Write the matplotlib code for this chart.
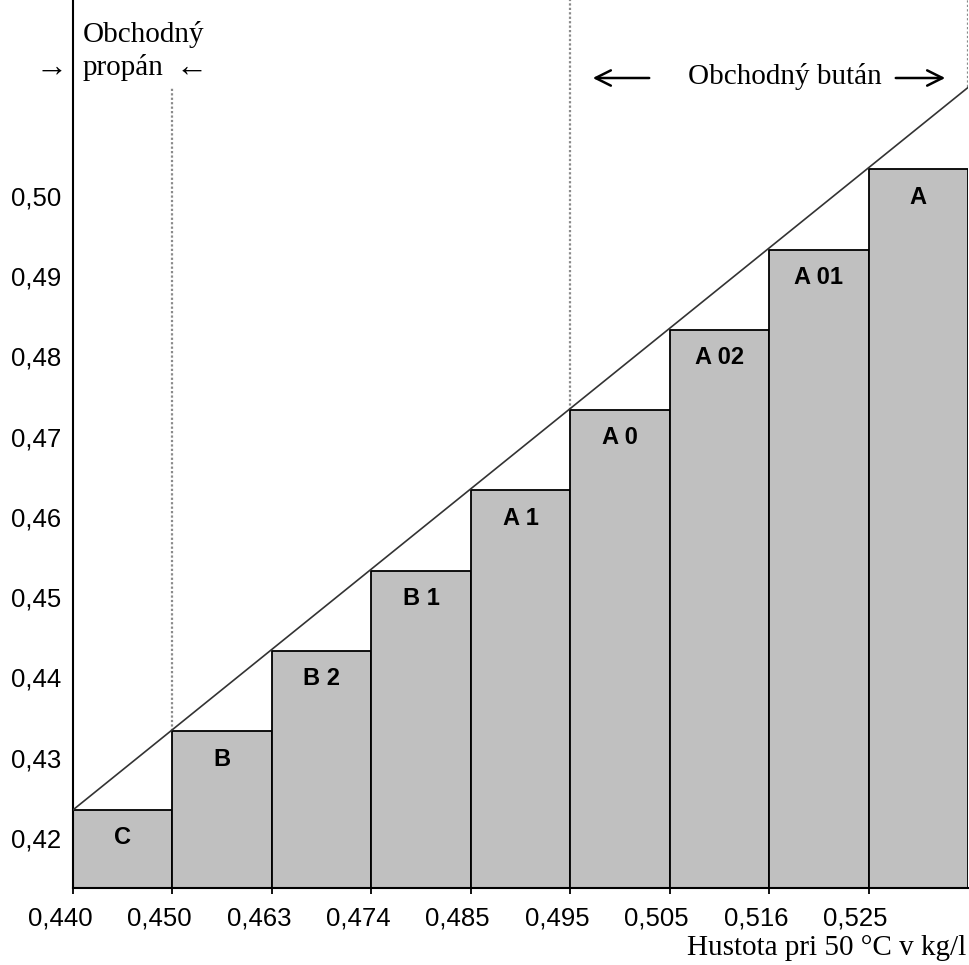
import matplotlib
matplotlib.use("Agg")
import matplotlib.pyplot as plt
import matplotlib.transforms as mtransforms

# ---- data ----
classes = ["C", "B", "B 2", "B 1", "A 1", "A 0", "A 02", "A 01", "A"]
vapor_top = [0.4235, 0.4333, 0.4433, 0.4533, 0.4633, 0.4733, 0.4833, 0.4933, 0.5033]
density_labels = ["0,440", "0,450", "0,463", "0,474", "0,485", "0,495", "0,505", "0,516", "0,525"]
ytick_vals = [0.42, 0.43, 0.44, 0.45, 0.46, 0.47, 0.48, 0.49, 0.50]
ytick_labels = ["0,42", "0,43", "0,44", "0,45", "0,46", "0,47", "0,48", "0,49", "0,50"]
line_x = [0, 9]
line_y = [0.4235, 0.5135]
divider_x = [1, 5, 9]
divider_lo = [0.4333, 0.4733, 0.5135]
divider_hi = [0.5135, 0.5244, 0.5244]

YMIN, YMAX = 0.41377, 0.5244

W, H = 969, 965
fig = plt.figure(figsize=(W / 100, H / 100), dpi=100)
ax = fig.add_axes([73 / W, (H - 888) / H, (968 - 73) / W, 888 / H])

sans = "Liberation Sans"
serif = "Liberation Serif"

xs = list(range(len(classes)))
ax.bar(xs, [v - YMIN for v in vapor_top], bottom=YMIN, width=1.0, align="edge",
       color="#c0c0c0", edgecolor="black", linewidth=1.3, zorder=2)

ax.plot(line_x, line_y, color="#333333", lw=1.2, zorder=3)

for x, lo, hi in zip(divider_x, divider_lo, divider_hi):
    ax.vlines(x, lo, hi, colors="#8a8a8a", linestyles=(0, (1, 1)), lw=1.6, zorder=1)

for x, v, c in zip(xs, vapor_top, classes):
    ax.annotate(c, (x + 0.5, v), xytext=(0, -20), textcoords="offset points",
                ha="center", va="center", fontsize=17, fontweight="bold",
                family=sans, zorder=4)

ax.set_xlim(0, 9)
ax.set_ylim(YMIN, YMAX)
ax.set_xticks(list(range(len(density_labels))))
ax.set_xticklabels(density_labels, fontsize=18.5, family=sans)
ax.set_yticks(ytick_vals)
ax.set_yticklabels(ytick_labels, fontsize=18.5, family=sans)
ax.tick_params(axis="x", length=4, width=1.3, pad=9, direction="out")
ax.tick_params(axis="y", length=0, pad=8.5)
offset = mtransforms.ScaledTranslation(-13 / 100, 0, fig.dpi_scale_trans)
for lab in ax.get_xticklabels():
    lab.set_transform(lab.get_transform() + offset)

for s in ["top", "right"]:
    ax.spines[s].set_visible(False)
for s in ["left", "bottom"]:
    ax.spines[s].set_linewidth(1.5)
ax.patch.set_alpha(0)

def fx(px):
    return px / W

def fy(py):
    return 1 - py / H

fig.text(fx(83), fy(42), "Obchodný", family=serif, fontsize=21, va="baseline")
fig.text(fx(83), fy(75), "propán", family=serif, fontsize=21, va="baseline")
fig.text(fx(36), fy(76), "→", family=serif, fontsize=23, va="baseline")
fig.text(fx(176), fy(76), "←", family=serif, fontsize=23, va="baseline")
fig.text(fx(688), fy(84), "Obchodný bután", family=serif, fontsize=21, va="baseline")
fig.text(fx(966), fy(955), "Hustota pri 50 °C v kg/l", family=serif, fontsize=21,
         va="baseline", ha="right")

style = "->,head_length=0.5,head_width=0.25"
fig.add_artist(matplotlib.patches.FancyArrowPatch((fx(652), fy(78)), (fx(590), fy(78)),
               transform=fig.transFigure, arrowstyle=style, lw=1.8,
               color="black", mutation_scale=22))
fig.add_artist(matplotlib.patches.FancyArrowPatch((fx(893), fy(78)), (fx(948), fy(78)),
               transform=fig.transFigure, arrowstyle=style, lw=1.8,
               color="black", mutation_scale=22))

fig.savefig("out.png", dpi=100)
